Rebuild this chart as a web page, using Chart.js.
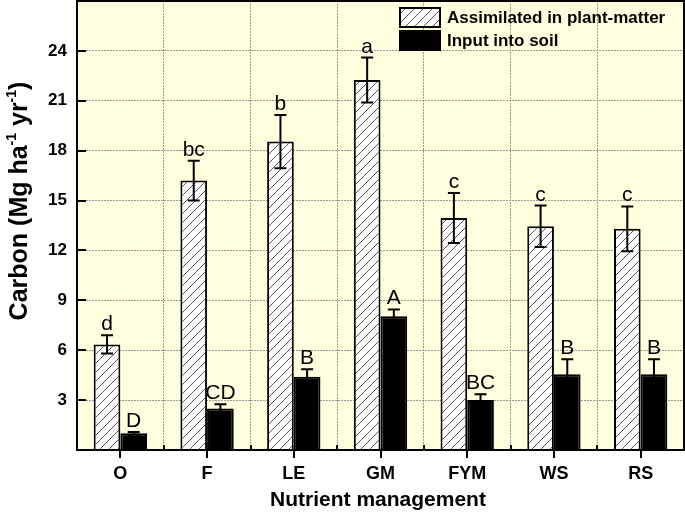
<!DOCTYPE html>
<html>
<head>
<meta charset="utf-8">
<script src="https://cdn.jsdelivr.net/npm/chart.js@4.4.1/dist/chart.umd.min.js"></script>
<style>
  html, body { margin: 0; padding: 0; background: #fff; }
  #wrap { width: 685px; height: 513px; }
</style>
</head>
<body>
<div id="wrap"><canvas id="carbonChart" width="685" height="513"></canvas></div>
<script>
// Data
const categories = ['O', 'F', 'LE', 'GM', 'FYM', 'WS', 'RS'];
const assimilated = [6.35, 16.2, 18.55, 22.25, 13.95, 13.45, 13.3];
const assimilatedErr = [0.55, 1.2, 1.6, 1.35, 1.5, 1.25, 1.35];
const assimilatedLetters = ['d', 'bc', 'b', 'a', 'c', 'c', 'c'];
const soilInput = [1.0, 2.5, 4.4, 8.05, 3.0, 4.55, 4.55];
const soilInputErr = [0.08, 0.25, 0.45, 0.4, 0.35, 0.9, 0.9];
const soilInputLetters = ['D', 'CD', 'B', 'A', 'BC', 'B', 'B'];
const yTicks = [3, 6, 9, 12, 15, 18, 21, 24];

const FONT = 'Arial, "Liberation Sans", sans-serif';

// diagonal hatch fill
const makeHatch = () => {
  const s = 9;
  const c = document.createElement('canvas');
  c.width = s; c.height = s;
  const g = c.getContext('2d');
  g.fillStyle = '#fff';
  g.fillRect(0, 0, s, s);
  g.strokeStyle = '#555';
  g.lineWidth = 1;
  g.beginPath();
  g.moveTo(0, s); g.lineTo(s, 0);
  g.moveTo(-2, 2); g.lineTo(2, -2);
  g.moveTo(s - 2, s + 2); g.lineTo(s + 2, s - 2);
  g.stroke();
  return g.createPattern(c, 'repeat');
};
const hatch = makeHatch();

const errorSets = [assimilatedErr, soilInputErr];
const letterSets = [assimilatedLetters, soilInputLetters];

const decorPlugin = {
  id: 'decor',
  beforeDraw(chart) {
    const { ctx, chartArea: a } = chart;
    ctx.save();
    ctx.fillStyle = '#ffffe0';
    ctx.fillRect(a.left, a.top, a.right - a.left, a.bottom - a.top);
    ctx.restore();
  },
  afterDatasetsDraw(chart) {
    const { ctx } = chart;
    const y = chart.scales.y;
    ctx.save();
    ctx.strokeStyle = '#000';
    ctx.lineWidth = 2;
    chart.data.datasets.forEach((ds, i) => {
      const meta = chart.getDatasetMeta(i);
      meta.data.forEach((bar, j) => {
        const v = ds.data[j], e = errorSets[i][j];
        const yTop = y.getPixelForValue(v + e);
        const yBot = y.getPixelForValue(v - e);
        ctx.beginPath();
        ctx.moveTo(bar.x, yTop); ctx.lineTo(bar.x, yBot);
        ctx.moveTo(bar.x - 6, yTop); ctx.lineTo(bar.x + 6, yTop);
        ctx.moveTo(bar.x - 6, yBot); ctx.lineTo(bar.x + 6, yBot);
        ctx.stroke();
        ctx.fillStyle = '#000';
        ctx.font = '21px ' + FONT;
        ctx.textAlign = 'center';
        ctx.textBaseline = 'alphabetic';
        ctx.fillText(letterSets[i][j], bar.x, yTop - 5);
      });
    });
    ctx.restore();
  },
  afterDraw(chart) {
    const { ctx, chartArea: a } = chart;
    const x = chart.scales.x;
    const y = chart.scales.y;
    ctx.save();
    ctx.strokeStyle = '#000';
    ctx.lineWidth = 2;
    ctx.strokeRect(a.left, a.top, a.right - a.left, a.bottom - a.top);

    // tick marks
    ctx.beginPath();
    yTicks.forEach(t => {
      const py = Math.round(y.getPixelForValue(t));
      ctx.moveTo(a.left, py); ctx.lineTo(a.left + 9, py);
    });
    categories.forEach((c, i) => {
      const px = Math.round(x.getPixelForValue(i));
      ctx.moveTo(px, a.bottom); ctx.lineTo(px, a.bottom + 8);
      if (i > 0) {
        const mx = Math.round((px + x.getPixelForValue(i - 1)) / 2);
        ctx.moveTo(mx, a.bottom); ctx.lineTo(mx, a.bottom - 5);
      }
    });
    ctx.stroke();

    // legend
    const lx = 400, ly = 8;
    ctx.lineWidth = 2;
    ctx.fillStyle = hatch;
    ctx.fillRect(lx, ly, 40, 19);
    ctx.strokeRect(lx, ly, 40, 19);
    ctx.fillStyle = '#000';
    ctx.fillRect(lx, ly + 23, 40, 19);
    ctx.strokeRect(lx, ly + 23, 40, 19);
    ctx.font = 'bold 17px ' + FONT;
    ctx.textAlign = 'left';
    ctx.textBaseline = 'middle';
    ctx.fillText(chart.data.datasets[0].label, lx + 47, ly + 10);
    ctx.fillText(chart.data.datasets[1].label, lx + 47, ly + 33);

    // x title
    ctx.font = 'bold 21px ' + FONT;
    ctx.textAlign = 'center';
    ctx.textBaseline = 'alphabetic';
    ctx.fillText('Nutrient management', 378, 506);

    // y title with superscripts
    const parts = [
      ['Carbon (Mg ha', 25, 0], ['-1', 14, -11], [' yr', 25, 0], ['-1', 14, -11], [')', 25, 0]
    ];
    let total = 0;
    parts.forEach(p => { ctx.font = 'bold ' + p[1] + 'px ' + FONT; total += ctx.measureText(p[0]).width; });
    ctx.translate(27, 201);
    ctx.rotate(-Math.PI / 2);
    ctx.textAlign = 'left';
    let cx = -total / 2;
    parts.forEach(p => {
      ctx.font = 'bold ' + p[1] + 'px ' + FONT;
      ctx.fillText(p[0], cx, p[2]);
      cx += ctx.measureText(p[0]).width;
    });
    ctx.restore();
  }
};

new Chart(document.getElementById('carbonChart'), {
  type: 'bar',
  data: {
    labels: categories,
    datasets: [
      { label: 'Assimilated in plant-matter', data: assimilated, backgroundColor: hatch, borderColor: '#000', borderWidth: 2 },
      { label: 'Input into soil', data: soilInput, backgroundColor: '#000', borderColor: '#000', borderWidth: 2 }
    ]
  },
  options: {
    responsive: false,
    animation: false,
    devicePixelRatio: 1,
    layout: { padding: { top: 1, right: 1, left: 0, bottom: 0 } },
    categoryPercentage: 0.615,
    barPercentage: 1,
    plugins: { legend: { display: false }, tooltip: { enabled: false } },
    scales: {
      x: {
        afterFit: (s) => { s.height = 63; s.paddingLeft = 0; s.paddingRight = 0; },
        grid: { display: true, offset: true, color: '#999', lineWidth: 1, drawTicks: false },
        border: { display: false, dash: [2, 1] },
        ticks: { color: '#000', padding: 13, font: { family: FONT, size: 18, weight: 'bold' } }
      },
      y: {
        min: 0, max: 27,
        afterFit: (s) => { s.width = 77; s.paddingTop = 0; s.paddingBottom = 0; },
        grid: { color: '#999', lineWidth: 1, drawTicks: false },
        border: { display: false, dash: [2, 1] },
        ticks: {
          stepSize: 3, padding: 10, color: '#000',
          font: { family: FONT, size: 17, weight: 'bold' },
          callback: (v) => yTicks.includes(v) ? v : ''
        }
      }
    }
  },
  plugins: [decorPlugin]
});
</script>
</body>
</html>
